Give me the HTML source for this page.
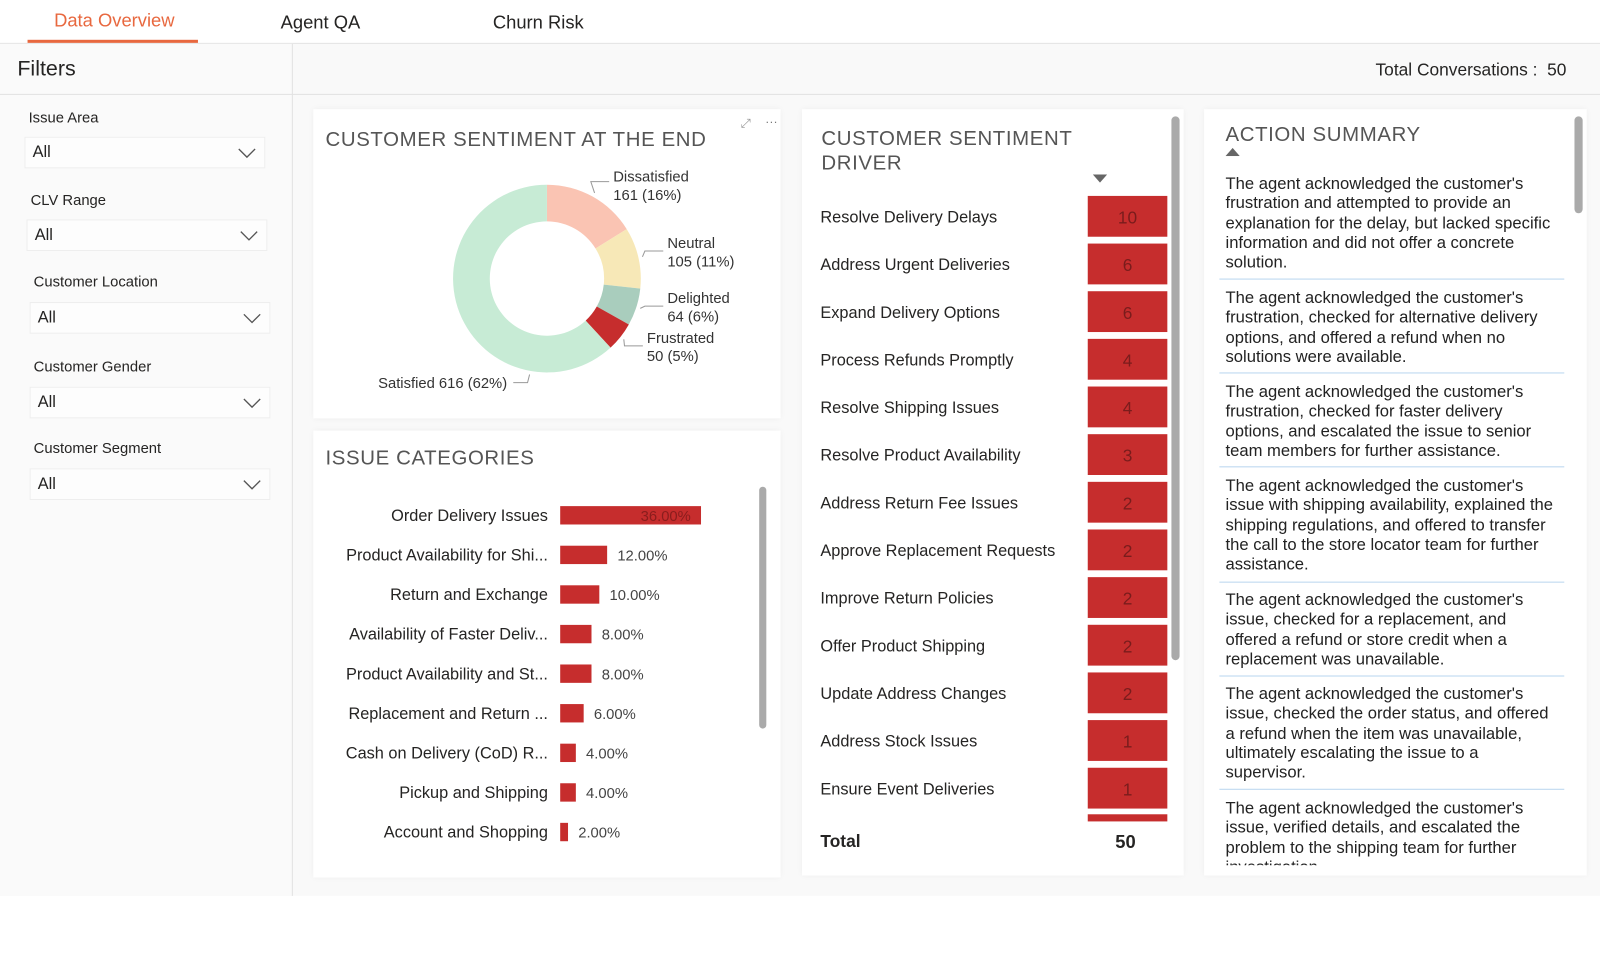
<!DOCTYPE html>
<html><head><meta charset="utf-8">
<style>
*{margin:0;padding:0;box-sizing:border-box}
body{width:1600px;height:980px;background:#fff;font-family:"Liberation Sans","DejaVu Sans",sans-serif;color:#252423;position:relative;overflow:hidden}
#root{position:absolute;left:0;top:0;width:1568px;height:960px;transform:scale(1.0204);transform-origin:0 0}
.abs{position:absolute}
.tab{position:absolute;top:10px;font-size:18px;white-space:nowrap}
.card{position:absolute;background:#fff;box-shadow:0 0 6px rgba(0,0,0,0.05)}
.ctitle{position:absolute;font-size:20px;letter-spacing:0.6px;color:#555;white-space:nowrap}
.flabel{position:absolute;font-size:14.5px;color:#252423}
.fbox{position:absolute;width:236px;height:31px;border:1px solid #eee;background:#fdfdfd;font-size:16px;padding:6px 0 0 7px}
.fbox svg{position:absolute;right:8px;top:9px}
.t{position:absolute;white-space:nowrap}
.sum{position:absolute;left:1201px;width:332px;font-size:16.3px;line-height:19.3px;color:#222;white-space:nowrap}
.sep{position:absolute;left:1195px;width:338px;height:1px;background:#b9d6ef}
.sb{position:absolute;width:8px;border-radius:4px;background:#aaa}
</style></head><body>
<div id="root">
<div class="abs" style="left:0;top:43px;width:1600px;height:835px;background:#f9f9f9"></div>
<div class="abs" style="left:0;top:42px;width:1600px;height:1px;background:#e2e2e2"></div>
<div class="tab" style="left:53px;color:#e8683f">Data Overview</div>
<div class="abs" style="left:27px;top:39px;width:167px;height:3px;background:#e8683f"></div>
<div class="tab" style="left:275px;top:12px">Agent QA</div>
<div class="tab" style="left:483px;top:12px">Churn Risk</div>

<div class="abs" style="left:0;top:43px;width:287px;height:835px;background:#fafafa;border-right:1px solid #e2e2e2"></div>
<div class="abs" style="left:0;top:92px;width:1600px;height:1px;background:#e2e2e2"></div>
<div class="t" style="left:17px;top:56px;font-size:21px">Filters</div>
<div class="t" style="left:1348px;top:59px;font-size:17px">Total Conversations :&nbsp; 50</div>

<div class="flabel" style="left:28px;top:108px">Issue Area</div>
<div class="fbox" style="left:24px;top:134px">All<svg width="18" height="12"><path d="M1 2l8 8 8-8" fill="none" stroke="#555" stroke-width="1.3"/></svg></div>
<div class="flabel" style="left:30px;top:189px">CLV Range</div>
<div class="fbox" style="left:26px;top:215px">All<svg width="18" height="12"><path d="M1 2l8 8 8-8" fill="none" stroke="#555" stroke-width="1.3"/></svg></div>
<div class="flabel" style="left:33px;top:269px">Customer Location</div>
<div class="fbox" style="left:29px;top:296px">All<svg width="18" height="12"><path d="M1 2l8 8 8-8" fill="none" stroke="#555" stroke-width="1.3"/></svg></div>
<div class="flabel" style="left:33px;top:352px">Customer Gender</div>
<div class="fbox" style="left:29px;top:379px">All<svg width="18" height="12"><path d="M1 2l8 8 8-8" fill="none" stroke="#555" stroke-width="1.3"/></svg></div>
<div class="flabel" style="left:33px;top:432px">Customer Segment</div>
<div class="fbox" style="left:29px;top:459px">All<svg width="18" height="12"><path d="M1 2l8 8 8-8" fill="none" stroke="#555" stroke-width="1.3"/></svg></div>

<!-- Card 1 donut -->
<div class="card" style="left:307px;top:107px;width:458px;height:303px"></div>
<div class="ctitle" style="left:319px;top:126px">CUSTOMER SENTIMENT AT THE END</div>
<div class="t" style="left:726px;top:114px;font-size:12px;color:#999">⤢</div>
<div class="t" style="left:750px;top:112px;font-size:12px;color:#777">···</div>
<svg class="abs" id="donut" style="left:0;top:0" width="800" height="420"></svg>

<!-- Card 2 issues -->
<div class="card" style="left:307px;top:422px;width:458px;height:438px"></div>
<div class="ctitle" style="left:319px;top:438px">ISSUE CATEGORIES</div>
<svg class="abs" id="issues" style="left:0;top:0" width="800" height="870"></svg>
<div class="sb" style="left:744px;top:477px;height:237px;width:7px"></div>

<!-- Card 3 driver -->
<div class="card" style="left:786px;top:107px;width:374px;height:751px"></div>
<div class="ctitle" style="left:805px;top:124px;line-height:24px">CUSTOMER SENTIMENT<br>DRIVER</div>
<svg class="abs" style="left:1071px;top:171px" width="14" height="8"><path d="M0 0h14L7 8z" fill="#666"/></svg>
<svg class="abs" id="driver" style="left:0;top:0" width="1170" height="870"></svg>
<div class="sb" style="left:1148px;top:114px;height:533px"></div>
<div class="t" style="left:804px;top:815px;font-size:17px;font-weight:bold">Total</div>
<div class="t" style="left:1093px;top:815px;font-size:18px;font-weight:bold">50</div>

<!-- Card 4 summary -->
<div class="card" style="left:1180px;top:107px;width:375px;height:751px;overflow:hidden"></div>
<div class="ctitle" style="left:1201px;top:121px">ACTION SUMMARY</div>
<svg class="abs" style="left:1201px;top:145px" width="14" height="8"><path d="M0 8h14L7 0z" fill="#666"/></svg>
<div class="sb" style="left:1543px;top:114px;height:95px"></div>
<div class="abs" style="left:0;top:0;width:1600px;height:848px;overflow:hidden">
<div class="sum" style="top:171px">The agent acknowledged the customer's<br>frustration and attempted to provide an<br>explanation for the delay, but lacked specific<br>information and did not offer a concrete<br>solution.</div>
<div class="sep" style="top:273px"></div>
<div class="sum" style="top:283px">The agent acknowledged the customer's<br>frustration, checked for alternative delivery<br>options, and offered a refund when no<br>solutions were available.</div>
<div class="sep" style="top:365px"></div>
<div class="sum" style="top:375px">The agent acknowledged the customer's<br>frustration, checked for faster delivery<br>options, and escalated the issue to senior<br>team members for further assistance.</div>
<div class="sep" style="top:457px"></div>
<div class="sum" style="top:467px">The agent acknowledged the customer's<br>issue with shipping availability, explained the<br>shipping regulations, and offered to transfer<br>the call to the store locator team for further<br>assistance.</div>
<div class="sep" style="top:570px"></div>
<div class="sum" style="top:579px">The agent acknowledged the customer's<br>issue, checked for a replacement, and<br>offered a refund or store credit when a<br>replacement was unavailable.</div>
<div class="sep" style="top:662px"></div>
<div class="sum" style="top:671px">The agent acknowledged the customer's<br>issue, checked the order status, and offered<br>a refund when the item was unavailable,<br>ultimately escalating the issue to a<br>supervisor.</div>
<div class="sep" style="top:773px"></div>
<div class="sum" style="top:783px">The agent acknowledged the customer's<br>issue, verified details, and escalated the<br>problem to the shipping team for further<br>investigation.</div>
</div>
</div>

<script>
const NS="http://www.w3.org/2000/svg";
function mk(parent,tag,attrs){const e=document.createElementNS(NS,tag);for(const k in attrs)e.setAttribute(k,attrs[k]);parent.appendChild(e);return e;}

// ---- Donut data
const sentLabels=["Dissatisfied","Neutral","Delighted","Frustrated","Satisfied"];
const sentValues=[161,105,64,50,616];
const sentColors=["#fac4b3","#f7e8b7","#a9cdbd","#c62d2d","#c7ebd5"];

const d=document.getElementById('donut');
const cx=536,cy=273,ro=92,ri=56;
const tot=sentValues.reduce((a,b)=>a+b,0);
let acc=0;
function pt(a,r){return [cx+r*Math.sin(a),cy-r*Math.cos(a)];}
const labelPos=[[601,173,'start'],[654,238,'start'],[654,292,'start'],[634,331,'start'],[497,375,'end']];
sentValues.forEach((v,i)=>{
  const a0=acc/tot*2*Math.PI; acc+=v; const a1=acc/tot*2*Math.PI;
  const lg=(a1-a0)>Math.PI?1:0;
  const [x0,y0]=pt(a0,ro),[x1,y1]=pt(a1,ro),[x2,y2]=pt(a1,ri),[x3,y3]=pt(a0,ri);
  const p=mk(d,'path',{d:`M${x0} ${y0}A${ro} ${ro} 0 ${lg} 1 ${x1} ${y1}L${x2} ${y2}A${ri} ${ri} 0 ${lg} 0 ${x3} ${y3}Z`,fill:sentColors[i]});
  
  
  const am=(a0+a1)/2; const [ex,ey]=pt(am,ro+4);
  const lp=labelPos[i];
  const pct=Math.round(v/tot*100);
  const tx=lp[0], ty=lp[1];
  let pts;
  if(i===4){pts=`${tx+6},${ty} ${tx+20},${ty} ${tx+22},${ty-8}`;}
  else{const lx=tx-4, yy=ty+(i==0?5:8); pts=`${ex},${ey} ${lx-18},${yy} ${lx},${yy}`;}
  const ln=mk(d,'polyline',{points:pts,fill:'none',stroke:'#999','stroke-width':1});
  
  
  const t=mk(d,'text',{x:tx,y:ty+5,'font-size':14.5,fill:'#333','text-anchor':lp[2],'font-family':'Liberation Sans, sans-serif'});
  
  
  if(i===4){t.textContent=`${sentLabels[i]} ${v} (${pct}%)`;}
  else{
    const s1=mk(t,'tspan',{x:tx});s1.textContent=sentLabels[i];
    const s2=mk(t,'tspan',{x:tx,dy:18});s2.textContent=`${v} (${pct}%)`;
  }
});

// ---- Issue categories
const issueCats=["Order Delivery Issues","Product Availability for Shi...","Return and Exchange","Availability of Faster Deliv...","Product Availability and St...","Replacement and Return ...","Cash on Delivery (CoD) R...","Pickup and Shipping","Account and Shopping"];
const issuePct=[36,12,10,8,8,6,4,4,2];
const ig=document.getElementById('issues');
const xScale=v=>v/36*138, yRow=i=>505+i*38.8;
issueCats.forEach((c,i)=>{
  const y=yRow(i), w=xScale(issuePct[i]);
  const t=mk(ig,'text',{x:537,y:y+5.5,'font-size':16,fill:'#252423','text-anchor':'end','font-family':'Liberation Sans, sans-serif'});
  t.textContent=c;
  
  
  const r=mk(ig,'rect',{x:549,y:y-9,width:w,height:18,fill:'#c62d2d'});
  
  
  const inside=issuePct[i]>=30;
  const v=mk(ig,'text',{x:inside?549+w-10:549+w+10,y:y+5.5,'font-size':14.5,fill:inside?'#8a1d1d':'#444','text-anchor':inside?'end':'start','font-family':'Liberation Sans, sans-serif'});
  v.textContent=issuePct[i].toFixed(2)+'%';
  
  
});

// ---- Driver table
const driverNames=["Resolve Delivery Delays","Address Urgent Deliveries","Expand Delivery Options","Process Refunds Promptly","Resolve Shipping Issues","Resolve Product Availability","Address Return Fee Issues","Approve Replacement Requests","Improve Return Policies","Offer Product Shipping","Update Address Changes","Address Stock Issues","Ensure Event Deliveries"];
const driverCounts=[10,6,6,4,4,3,2,2,2,2,2,1,1];
const dg=document.getElementById('driver');
driverNames.forEach((n,i)=>{
  const y=212+i*46.7;
  const t=mk(dg,'text',{x:804,y:y+6,'font-size':16,fill:'#252423','font-family':'Liberation Sans, sans-serif'});
  t.textContent=n;
  
  
  const r=mk(dg,'rect',{x:1066,y:y-20,width:78,height:40,fill:'#c62d2d'});
  
  
  const v=mk(dg,'text',{x:1105,y:y+7,'font-size':17,fill:'#7a1c1c','text-anchor':'middle','font-family':'Liberation Sans, sans-serif'});
  v.textContent=driverCounts[i];
  
  
});
const partial=mk(dg,'rect',{x:1066,y:798,width:78,height:7,fill:'#c62d2d'});


</script>
</body></html>
